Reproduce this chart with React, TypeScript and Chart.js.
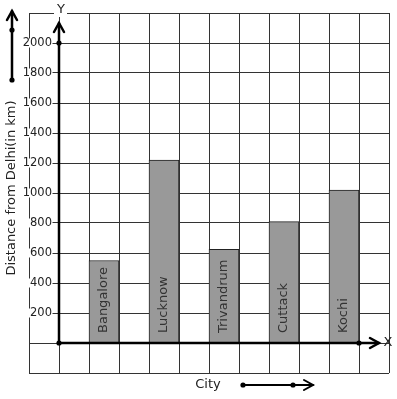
import { useEffect, useRef } from 'react';
import { Chart, registerables } from 'chart.js';

Chart.register(...registerables);

const cities = ['Bangalore', 'Lucknow', 'Trivandrum', 'Cuttack', 'Kochi'];
const distances = [550, 1220, 625, 810, 1020];
const yTickValues = [200, 400, 600, 800, 1000, 1200, 1400, 1600, 1800, 2000];
const yTitle = 'Distance from Delhi(in km)';
const xTitle = 'City';
const xLetter = 'X';
const yLetter = 'Y';

// 12 grid columns: two empty columns, then each city followed by an empty column
const columns: string[] = ['', ''].concat(cities.flatMap((c) => [c, '']));
const columnValues: (number | null)[] = [null, null].concat(
  distances.flatMap((d) => [d, null] as (number | null)[])
);

const FONT = '"DejaVu Sans", sans-serif';

function chevronUp(ctx: CanvasRenderingContext2D, x: number, y: number) {
  ctx.beginPath();
  ctx.moveTo(x - 5, y + 9);
  ctx.lineTo(x, y);
  ctx.lineTo(x + 5, y + 9);
  ctx.stroke();
}
function chevronRight(ctx: CanvasRenderingContext2D, x: number, y: number) {
  ctx.beginPath();
  ctx.moveTo(x - 9, y - 5);
  ctx.lineTo(x, y);
  ctx.lineTo(x - 9, y + 5);
  ctx.stroke();
}
function dot(ctx: CanvasRenderingContext2D, x: number, y: number) {
  ctx.beginPath();
  ctx.arc(x, y, 2.6, 0, Math.PI * 2);
  ctx.fill();
}

const decor = {
  id: 'decor',
  afterDatasetsDraw(chart: any) {
    const { ctx, chartArea } = chart;
    const xs = chart.scales.x;
    const ys = chart.scales.y;
    const ox = xs.getPixelForValue(0.5);
    const oy = ys.getPixelForValue(0);
    ctx.save();

    // tick labels with white backdrop
    ctx.font = `11.5px ${FONT}`;
    ctx.textAlign = 'right';
    ctx.textBaseline = 'middle';
    yTickValues.forEach((v) => {
      const py = ys.getPixelForValue(v);
      const t = String(v);
      const w = ctx.measureText(t).width;
      const rx = ox - 7;
      ctx.fillStyle = '#fff';
      ctx.fillRect(rx - w - 2.5, py - 4.5, w + 3, 9);
      ctx.fillStyle = '#222';
      ctx.fillText(t, rx, py + 0.5);
    });

    // axes
    ctx.strokeStyle = '#000';
    ctx.fillStyle = '#000';
    ctx.lineWidth = 2.5;
    ctx.lineCap = 'round';
    const yTop = chartArea.top + 10;
    const xRight = chartArea.right - 10;
    ctx.beginPath();
    ctx.moveTo(ox, oy);
    ctx.lineTo(ox, yTop);
    ctx.stroke();
    chevronUp(ctx, ox, yTop);
    ctx.beginPath();
    ctx.moveTo(ox, oy);
    ctx.lineTo(xRight, oy);
    ctx.stroke();
    chevronRight(ctx, xRight, oy);
    dot(ctx, ox, oy);
    dot(ctx, ox, ys.getPixelForValue(2000));
    dot(ctx, xs.getPixelForValue(10.5), oy);

    // axis letters
    ctx.font = `13px ${FONT}`;
    ctx.textAlign = 'center';
    ctx.textBaseline = 'middle';
    ctx.fillStyle = '#fff';
    ctx.fillRect(ox - 5, chartArea.top - 8, 13, 12);
    ctx.fillStyle = '#222';
    ctx.fillText(yLetter, ox + 2, chartArea.top - 3);
    ctx.fillText(xLetter, chartArea.right - 1, oy);

    // bar labels
    const meta = chart.getDatasetMeta(0);
    ctx.fillStyle = '#333';
    columns.forEach((c, i) => {
      if (!c) return;
      const el = meta.data[i];
      ctx.save();
      ctx.translate(el.x, oy - 10);
      ctx.rotate(-Math.PI / 2);
      ctx.textAlign = 'left';
      ctx.textBaseline = 'middle';
      ctx.fillText(c, 0, 0);
      ctx.restore();
    });

    // y title
    ctx.save();
    ctx.translate(12, 188);
    ctx.rotate(-Math.PI / 2);
    ctx.textAlign = 'center';
    ctx.textBaseline = 'middle';
    ctx.fillStyle = '#222';
    ctx.fillText(yTitle, 0, 0);
    ctx.restore();

    // left decorative arrow
    ctx.strokeStyle = '#000';
    ctx.fillStyle = '#000';
    ctx.lineWidth = 2.5;
    ctx.beginPath();
    ctx.moveTo(12, 80);
    ctx.lineTo(12, 11);
    ctx.stroke();
    chevronUp(ctx, 12, 11);
    dot(ctx, 12, 30);
    dot(ctx, 12, 80);

    // x title and arrow
    ctx.fillStyle = '#222';
    ctx.textAlign = 'center';
    ctx.fillText(xTitle, 208, 385);
    ctx.fillStyle = '#000';
    ctx.lineWidth = 2;
    ctx.beginPath();
    ctx.moveTo(243, 385);
    ctx.lineTo(313, 385);
    ctx.stroke();
    chevronRight(ctx, 313, 385);
    dot(ctx, 243, 385);
    dot(ctx, 293, 385);

    ctx.restore();
  },
};

export default function App() {
  const ref = useRef<HTMLCanvasElement>(null);
  useEffect(() => {
    if (!ref.current) return;
    const chart = new Chart(ref.current, {
      type: 'bar',
      data: {
        labels: columns,
        datasets: [
          {
            data: columnValues,
            backgroundColor: '#999999',
            borderColor: '#222',
            borderWidth: 1,
            barPercentage: 1,
            categoryPercentage: 1,
          },
        ],
      },
      options: {
        animation: false,
        responsive: false,
        devicePixelRatio: 1,
        layout: { padding: { left: 29, top: 13, right: 8, bottom: 26 } },
        plugins: { legend: { display: false }, tooltip: { enabled: false }, title: { display: false } },
        scales: {
          x: {
            type: 'category',
            offset: true,
            grid: { display: true, offset: true, color: '#333', lineWidth: 1, drawTicks: false },
            border: { display: false },
            ticks: { display: false },
          },
          y: {
            type: 'linear',
            min: -200,
            max: 2200,
            ticks: { display: false, stepSize: 200 },
            grid: { color: '#333', lineWidth: 1, drawTicks: false },
            border: { display: false },
          },
        },
      },
      plugins: [decor],
    });
    return () => chart.destroy();
  }, []);
  return (
    <canvas
      ref={ref}
      width={397}
      height={399}
      style={{ position: 'fixed', left: 0, top: 0, width: 397, height: 399, background: '#fff' }}
    />
  );
}
